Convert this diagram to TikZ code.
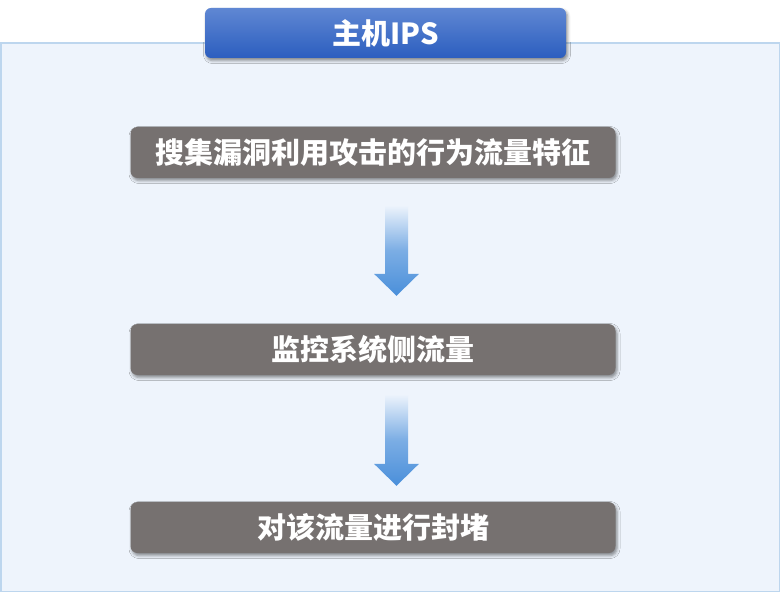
\documentclass[tikz,border=0pt]{standalone}
\usepackage{fontspec}
\newfontfamily\cjk{Noto Sans CJK SC}
\usepackage{xcolor}
\usetikzlibrary{positioning,calc,shadows.blur}

\definecolor{panelfill}{HTML}{EEF4FC}
\definecolor{panelline}{HTML}{BDD6EE}
\definecolor{boxgray}{HTML}{767170}
\definecolor{titletop}{HTML}{5F87D3}
\definecolor{titlebot}{HTML}{2C5EBF}
\definecolor{arrowblue}{HTML}{4A8FDA}

\tikzset{
  stepbox/.style={fill=boxgray, rounded corners=7pt, minimum width=485pt, minimum height=51pt,
    text=white, inner sep=0pt,
    blur shadow={shadow xshift=1.5pt, shadow yshift=-2.5pt, shadow blur radius=3pt, shadow opacity=45}},
  titlebox/.style={top color=titletop, bottom color=titlebot, rounded corners=6pt,
    minimum width=361pt, minimum height=50pt, text=white, inner sep=0pt,
    blur shadow={shadow xshift=1.5pt, shadow yshift=-2.5pt, shadow blur radius=3pt, shadow opacity=45}},
}

% shaded arrow from one box down to the next: #3 gap below the first, #4 gap above the second
\newcommand{\flowarrow}[4]{%
\shade[top color=panelfill, bottom color=arrowblue, middle color=arrowblue!70!panelfill]
  let \p1=($(#1.south)+(23.5,#3)$), \p2=($(#2.north)+(23.5,-#4)$) in
  (\x1-11.5pt,\y1) -- (\x1+11.5pt,\y1) -- (\x1+11.5pt,\y2+22pt) -- (\x1+22.5pt,\y2+22pt)
  -- (\x1,\y2) -- (\x1-22.5pt,\y2+22pt) -- (\x1-11.5pt,\y2+22pt) -- cycle;
}

\begin{document}
\begin{tikzpicture}[x=1pt,y=-1pt,font=\cjk\bfseries\fontsize{29}{32}\selectfont]
\useasboundingbox (0,0) rectangle (781,593);

\draw[panelline, fill=panelfill, line width=1.5pt] (0.75,43) rectangle (779.5,591.5);

\node[titlebox] (title) at (385.5,33) {主机IPS};

\node[stepbox] (collect) at (373,152.5) {搜集漏洞利用攻击的行为流量特征};
\node[stepbox] (monitor) at (373,349.5) {监控系统侧流量};
\node[stepbox] (block) at (373,527.5) {对该流量进行封堵};

\flowarrow{collect}{monitor}{27}{28}
\flowarrow{monitor}{block}{19}{16}
\end{tikzpicture}
\end{document}
